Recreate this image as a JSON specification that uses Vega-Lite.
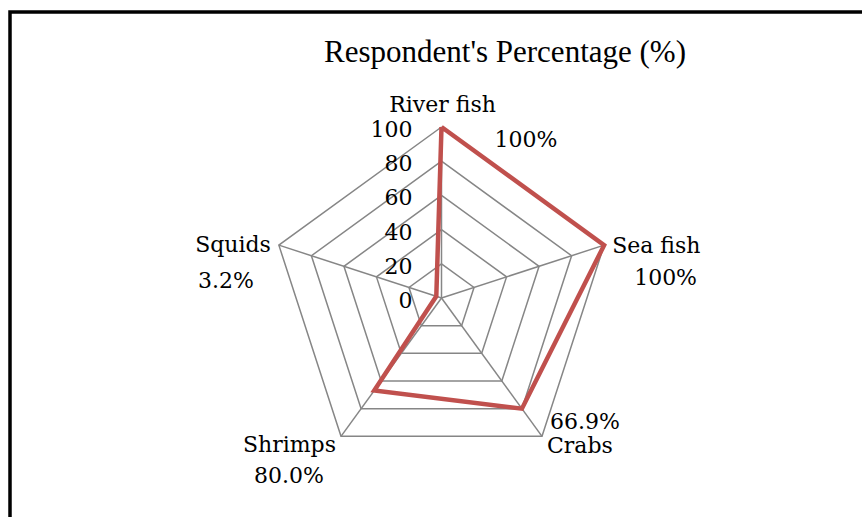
{
  "$schema": "https://vega.github.io/schema/vega-lite/v6.json",
  "width": 880,
  "height": 530,
  "autosize": {"type": "none"},
  "padding": {"left": 10, "top": 12, "right": -28, "bottom": -25},
  "background": "white",
  "config": {"view": {"stroke": "black", "strokeWidth": 3.5}},
  "title": {"text": "Respondent's Percentage (%)", "font": "Liberation Serif", "fontSize": 31, "fontWeight": "normal", "color": "black", "anchor": "middle", "baseline": "alphabetic", "offset": -81, "dx": 55},
  "datasets": {
    "series": [
      {"category": "River fish", "idx": 0, "value": 100, "label": "100%"},
      {"category": "Sea fish", "idx": 1, "value": 100, "label": "100%"},
      {"category": "Crabs", "idx": 2, "value": 80, "label": "66.9%"},
      {"category": "Shrimps", "idx": 3, "value": 66.9, "label": "80.0%"},
      {"category": "Squids", "idx": 4, "value": 3.2, "label": "3.2%"},
      {"category": "River fish", "idx": 5, "value": 100, "label": ""}
    ],
    "grid": [
      {"level": 20, "idx": 0}, {"level": 20, "idx": 1}, {"level": 20, "idx": 2}, {"level": 20, "idx": 3}, {"level": 20, "idx": 4}, {"level": 20, "idx": 5},
      {"level": 40, "idx": 0}, {"level": 40, "idx": 1}, {"level": 40, "idx": 2}, {"level": 40, "idx": 3}, {"level": 40, "idx": 4}, {"level": 40, "idx": 5},
      {"level": 60, "idx": 0}, {"level": 60, "idx": 1}, {"level": 60, "idx": 2}, {"level": 60, "idx": 3}, {"level": 60, "idx": 4}, {"level": 60, "idx": 5},
      {"level": 80, "idx": 0}, {"level": 80, "idx": 1}, {"level": 80, "idx": 2}, {"level": 80, "idx": 3}, {"level": 80, "idx": 4}, {"level": 80, "idx": 5},
      {"level": 100, "idx": 0}, {"level": 100, "idx": 1}, {"level": 100, "idx": 2}, {"level": 100, "idx": 3}, {"level": 100, "idx": 4}, {"level": 100, "idx": 5}
    ],
    "ticks": [{"level": 0}, {"level": 20}, {"level": 40}, {"level": 60}, {"level": 80}, {"level": 100}]
  },
  "layer": [
    {
      "data": {"name": "grid"},
      "transform": [
        {"calculate": "datum.level * sin(datum.idx * 2 * PI / 5)", "as": "px"},
        {"calculate": "datum.level * cos(datum.idx * 2 * PI / 5)", "as": "py"}
      ],
      "mark": {"type": "line", "color": "#868686", "strokeWidth": 1.5, "strokeJoin": "miter"},
      "encoding": {
        "x": {"field": "px", "type": "quantitative", "scale": {"domain": [-252.34, 262.28], "nice": false, "zero": false}, "axis": null},
        "y": {"field": "py", "type": "quantitative", "scale": {"domain": [-142.69, 167.25], "nice": false, "zero": false}, "axis": null},
        "detail": {"field": "level"},
        "order": {"field": "idx"}
      }
    },
    {
      "data": {"name": "grid"},
      "transform": [
        {"filter": "datum.level == 100 && datum.idx < 5"},
        {"calculate": "datum.level * sin(datum.idx * 2 * PI / 5)", "as": "px"},
        {"calculate": "datum.level * cos(datum.idx * 2 * PI / 5)", "as": "py"}
      ],
      "mark": {"type": "rule", "color": "#868686", "strokeWidth": 1.5},
      "encoding": {
        "x": {"field": "px", "type": "quantitative", "scale": {"domain": [-252.34, 262.28], "nice": false, "zero": false}, "axis": null},
        "y": {"field": "py", "type": "quantitative", "scale": {"domain": [-142.69, 167.25], "nice": false, "zero": false}, "axis": null},
        "x2": {"datum": 0},
        "y2": {"datum": 0}
      }
    },
    {
      "data": {"name": "series"},
      "transform": [
        {"calculate": "datum.value * sin(datum.idx * 2 * PI / 5)", "as": "px"},
        {"calculate": "datum.value * cos(datum.idx * 2 * PI / 5)", "as": "py"}
      ],
      "mark": {"type": "line", "color": "#C0504D", "strokeWidth": 4.5, "strokeJoin": "miter"},
      "encoding": {
        "x": {"field": "px", "type": "quantitative", "scale": {"domain": [-252.34, 262.28], "nice": false, "zero": false}, "axis": null},
        "y": {"field": "py", "type": "quantitative", "scale": {"domain": [-142.69, 167.25], "nice": false, "zero": false}, "axis": null},
        "order": {"field": "idx"}
      }
    },
    {
      "data": {"name": "ticks"},
      "mark": {"type": "text", "align": "right", "baseline": "alphabetic", "dx": -29, "dy": 10, "font": "DejaVu Serif", "fontSize": 22, "color": "black"},
      "encoding": {
        "x": {"datum": 0, "type": "quantitative", "scale": {"domain": [-252.34, 262.28], "nice": false, "zero": false}, "axis": null},
        "y": {"field": "level", "type": "quantitative", "scale": {"domain": [-142.69, 167.25], "nice": false, "zero": false}, "axis": null},
        "text": {"field": "level", "type": "quantitative"}
      }
    },
    {
      "data": {"name": "series"},
      "transform": [
        {"filter": "datum.category == 'River fish' && datum.idx == 0"},
        {"calculate": "100 * sin(datum.idx * 2 * PI / 5)", "as": "px"},
        {"calculate": "100 * cos(datum.idx * 2 * PI / 5)", "as": "py"}
      ],
      "layer": [
        {"mark": {"type": "text", "align": "center", "baseline": "alphabetic", "dx": 1, "dy": -15, "font": "DejaVu Serif", "fontSize": 22, "color": "black"},
         "encoding": {"text": {"field": "category"}}},
        {"mark": {"type": "text", "align": "left", "baseline": "alphabetic", "dx": 53, "dy": 20, "font": "DejaVu Serif", "fontSize": 22, "color": "black"},
         "encoding": {"text": {"field": "label"}}}
      ],
      "encoding": {
        "x": {"field": "px", "type": "quantitative", "scale": {"domain": [-252.34, 262.28], "nice": false, "zero": false}, "axis": null},
        "y": {"field": "py", "type": "quantitative", "scale": {"domain": [-142.69, 167.25], "nice": false, "zero": false}, "axis": null}
      }
    },
    {
      "data": {"name": "series"},
      "transform": [
        {"filter": "datum.category == 'Sea fish'"},
        {"calculate": "100 * sin(datum.idx * 2 * PI / 5)", "as": "px"},
        {"calculate": "100 * cos(datum.idx * 2 * PI / 5)", "as": "py"}
      ],
      "layer": [
        {"mark": {"type": "text", "align": "left", "baseline": "alphabetic", "dx": 8, "dy": 8, "font": "DejaVu Serif", "fontSize": 22, "color": "black"},
         "encoding": {"text": {"field": "category"}}},
        {"mark": {"type": "text", "align": "left", "baseline": "alphabetic", "dx": 30, "dy": 40, "font": "DejaVu Serif", "fontSize": 22, "color": "black"},
         "encoding": {"text": {"field": "label"}}}
      ],
      "encoding": {
        "x": {"field": "px", "type": "quantitative", "scale": {"domain": [-252.34, 262.28], "nice": false, "zero": false}, "axis": null},
        "y": {"field": "py", "type": "quantitative", "scale": {"domain": [-142.69, 167.25], "nice": false, "zero": false}, "axis": null}
      }
    },
    {
      "data": {"name": "series"},
      "transform": [
        {"filter": "datum.category == 'Crabs'"},
        {"calculate": "100 * sin(datum.idx * 2 * PI / 5)", "as": "px"},
        {"calculate": "100 * cos(datum.idx * 2 * PI / 5)", "as": "py"}
      ],
      "layer": [
        {"mark": {"type": "text", "align": "left", "baseline": "alphabetic", "dx": 5, "dy": 17, "font": "DejaVu Serif", "fontSize": 22, "color": "black"},
         "encoding": {"text": {"field": "category"}}},
        {"mark": {"type": "text", "align": "left", "baseline": "alphabetic", "dx": 8, "dy": -7, "font": "DejaVu Serif", "fontSize": 22, "color": "black"},
         "encoding": {"text": {"field": "label"}}}
      ],
      "encoding": {
        "x": {"field": "px", "type": "quantitative", "scale": {"domain": [-252.34, 262.28], "nice": false, "zero": false}, "axis": null},
        "y": {"field": "py", "type": "quantitative", "scale": {"domain": [-142.69, 167.25], "nice": false, "zero": false}, "axis": null}
      }
    },
    {
      "data": {"name": "series"},
      "transform": [
        {"filter": "datum.category == 'Shrimps'"},
        {"calculate": "100 * sin(datum.idx * 2 * PI / 5)", "as": "px"},
        {"calculate": "100 * cos(datum.idx * 2 * PI / 5)", "as": "py"}
      ],
      "layer": [
        {"mark": {"type": "text", "align": "right", "baseline": "alphabetic", "dx": -5, "dy": 16, "font": "DejaVu Serif", "fontSize": 22, "color": "black"},
         "encoding": {"text": {"field": "category"}}},
        {"mark": {"type": "text", "align": "right", "baseline": "alphabetic", "dx": -17, "dy": 47, "font": "DejaVu Serif", "fontSize": 22, "color": "black"},
         "encoding": {"text": {"field": "label"}}}
      ],
      "encoding": {
        "x": {"field": "px", "type": "quantitative", "scale": {"domain": [-252.34, 262.28], "nice": false, "zero": false}, "axis": null},
        "y": {"field": "py", "type": "quantitative", "scale": {"domain": [-142.69, 167.25], "nice": false, "zero": false}, "axis": null}
      }
    },
    {
      "data": {"name": "series"},
      "transform": [
        {"filter": "datum.category == 'Squids'"},
        {"calculate": "100 * sin(datum.idx * 2 * PI / 5)", "as": "px"},
        {"calculate": "100 * cos(datum.idx * 2 * PI / 5)", "as": "py"}
      ],
      "layer": [
        {"mark": {"type": "text", "align": "right", "baseline": "alphabetic", "dx": -8, "dy": 7, "font": "DejaVu Serif", "fontSize": 22, "color": "black"},
         "encoding": {"text": {"field": "category"}}},
        {"mark": {"type": "text", "align": "right", "baseline": "alphabetic", "dx": -25, "dy": 43, "font": "DejaVu Serif", "fontSize": 22, "color": "black"},
         "encoding": {"text": {"field": "label"}}}
      ],
      "encoding": {
        "x": {"field": "px", "type": "quantitative", "scale": {"domain": [-252.34, 262.28], "nice": false, "zero": false}, "axis": null},
        "y": {"field": "py", "type": "quantitative", "scale": {"domain": [-142.69, 167.25], "nice": false, "zero": false}, "axis": null}
      }
    }
  ]
}
